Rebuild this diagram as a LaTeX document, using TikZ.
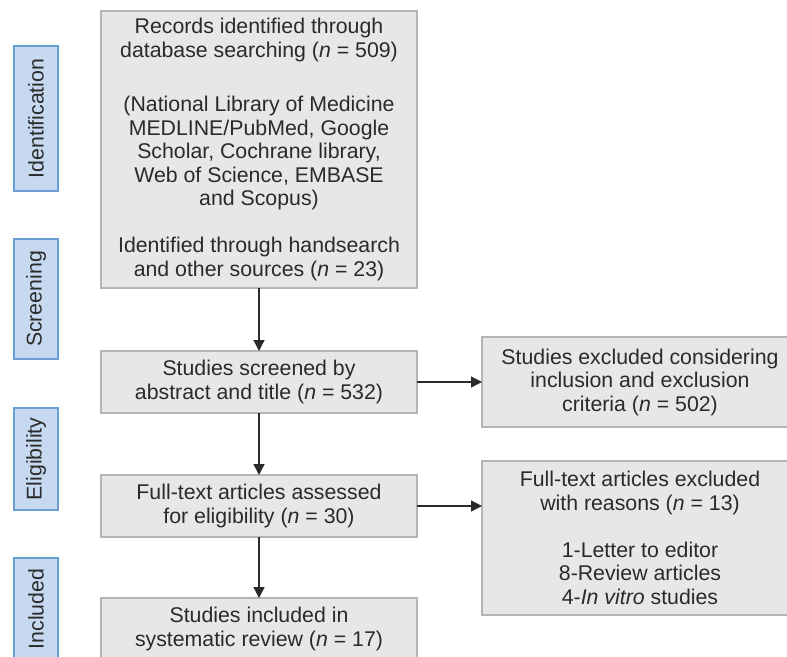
\documentclass[tikz,border=0pt]{standalone}
\usepackage{fontspec}
\setmainfont{Liberation Sans}
\usetikzlibrary{arrows.meta}
\definecolor{boxfill}{HTML}{E6E7E8}
\definecolor{boxline}{HTML}{B5B5B5}
\definecolor{labfill}{HTML}{C6D9F0}
\definecolor{labline}{HTML}{6A9FD6}
\definecolor{ink}{HTML}{2A2A2A}
\tikzset{
  mainbox/.style={draw=boxline, fill=boxfill, line width=1.4pt, inner sep=0pt, outer sep=0pt,
    minimum width=316pt, align=center, text=ink,
    font=\fontsize{21.3}{23.5}\selectfont},
  phase/.style={draw=labline, fill=labfill, line width=1.2pt, inner sep=0pt, outer sep=0pt,
    rotate=90, minimum height=44pt, text=ink, font=\fontsize{21.3}{23.5}\selectfont},
  flow/.style={draw=ink, line width=1.3pt, -{Triangle[length=11pt,width=11pt]}}
}
\begin{document}
\begin{tikzpicture}[x=1pt,y=-1pt]
\useasboundingbox (0,0) rectangle (787,656);
\clip (0,0) rectangle (787,656);
\fill[white] (0,0) rectangle (787,656);
% phase labels
\node[phase, minimum width=145pt] (lid) at (36,118.5) {Identification};
\node[phase, minimum width=120pt] (lsc) at (36,299) {Screening};
\node[phase, minimum width=102pt] (lel) at (36,459) {Eligibility};
\node[phase, minimum width=102pt] (lin) at (36,609) {Included};
% main column
\node[mainbox, minimum height=277pt] (rec) at (259,149.5)
  {Records identified through\\ database searching (\textit{n} = 509)\\[31pt]
   (National Library of Medicine\\ MEDLINE/PubMed, Google\\ Scholar, Cochrane library,\\
   Web of Science, EMBASE\\ and Scopus)\\[23.5pt]
   Identified through handsearch\\ and other sources (\textit{n} = 23)};
\node[mainbox, minimum height=62pt] (scr) at (259,382)
  {Studies screened by\\ abstract and title (\textit{n} = 532)};
\node[mainbox, minimum height=62pt] (full) at (259,506)
  {Full-text articles assessed\\ for eligibility (\textit{n} = 30)};
\node[mainbox, minimum height=62pt] (inc) at (259,629)
  {Studies included in\\ systematic review (\textit{n} = 17)};
% right column
\node[mainbox, minimum height=90pt] (exc1) at (640,382)
  {Studies excluded considering\\ inclusion and exclusion\\ criteria (\textit{n} = 502)};
\node[mainbox, minimum height=154pt] (exc2) at (640,538)
  {Full-text articles excluded\\ with reasons (\textit{n} = 13)\\[23.5pt]
   1-Letter to editor\\ 8-Review articles\\ 4-\textit{In vitro} studies};
% connectors
\draw[flow] (rec.south) -- (scr.north);
\draw[flow] (scr.south) -- (full.north);
\draw[flow] (full.south) -- (inc.north);
\draw[flow] (scr.east) -- (exc1.west);
\draw[flow] (full.east) -- (full.east -| exc2.west);
\end{tikzpicture}
\end{document}
